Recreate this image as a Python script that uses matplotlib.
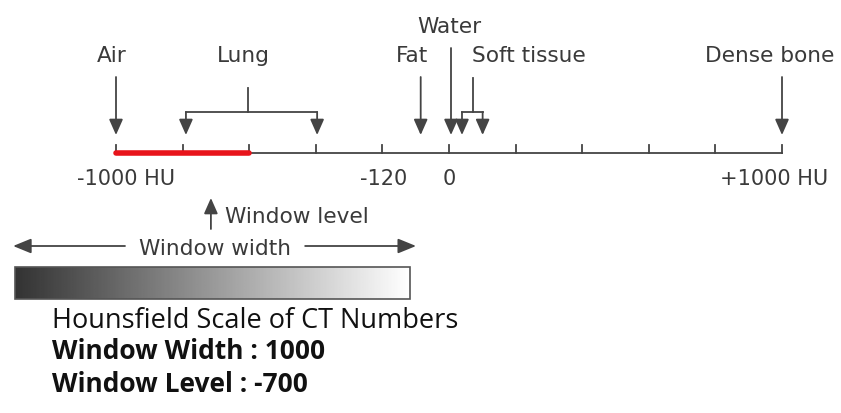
import matplotlib.pyplot as plt
import numpy as np

# schematic Hounsfield axis (HU)
tick_hu = np.arange(-1000, 1001, 200)
tick_labels = ['-1000 HU', '-120', '0', '+1000 HU']
tick_label_hu = [-970, -195, 0, 975]

window_range = [-1000, -600]   # red bar
window_level = -715

# single arrows: name, HU position, label position
single_names = ['Air', 'Fat', 'Water', 'Dense bone']
single_hu = [-1000, -85, 6, 1000]
single_top = [77, 77, 48, 77]
label_names = ['Air', 'Lung', 'Fat', 'Water', 'Soft tissue', 'Dense bone']
label_hu = [-1012, -618, -111, 0, 240, 963]
label_y = [62, 62, 62, 33, 62, 62]

# bracket arrows
lung_hu = [-790, -396]
lung_stem = -603
soft_hu = [39, 101]
soft_stem = 72

grad_hu = [-1303, -117]
width_arrow_hu = [-1309, -99]
width_gap_hu = [-973, -432]

dark = '#444444'
txt = '#3a3a3a'

fig = plt.figure(figsize=(8.41, 4.13), dpi=100)
ax = fig.add_axes([0, 0, 1, 1])
ax.axis('off')

font = 'DejaVu Sans'
fs = 15.6

# axis line and ticks
ax.plot([tick_hu[0], tick_hu[-1]], [153, 153], color=dark, lw=1.3)
for t in tick_hu:
    ax.plot([t, t], [145, 153], color=dark, lw=1.3)
ax.plot(window_range, [153, 153], color='#e8141b', lw=4, solid_capstyle='round')
for lab, x in zip(tick_labels, tick_label_hu):
    ax.text(x, 185, lab, ha='center', va='baseline', fontsize=15, family=font, color=txt)

def arrow(x0, y0, x1, y1, hl=0.95, hw=0.42):
    ax.annotate('', xy=(x1, y1), xytext=(x0, y0),
                arrowprops=dict(arrowstyle=f'-|>,head_length={hl},head_width={hw}',
                                mutation_scale=10, color=dark, lw=1.3,
                                shrinkA=0, shrinkB=0))

for x, top in zip(single_hu, single_top):
    arrow(x, top, x, 135)

for xs, stem, top in [(lung_hu, lung_stem, 88), (soft_hu, soft_stem, 78)]:
    ax.plot([stem, stem], [top, 112], color=dark, lw=1.3)
    ax.plot(xs, [112, 112], color=dark, lw=1.3)
    for x in xs:
        arrow(x, 112, x, 135)

for lab, x, y in zip(label_names, label_hu, label_y):
    ax.text(x, y, lab, ha='center', va='baseline', fontsize=fs, family=font, color=txt)

# window level
arrow(window_level, 229, window_level, 198)
ax.text(window_level + 42, 223, 'Window level', ha='left', va='baseline',
        fontsize=fs, family=font, color=txt)

# window width
arrow(width_gap_hu[0], 246, width_arrow_hu[0], 246, hl=1.1, hw=0.45)
arrow(width_gap_hu[1], 246, width_arrow_hu[1], 246, hl=1.1, hw=0.45)
ax.text(np.mean(width_gap_hu), 255, 'Window width', ha='center', va='baseline',
        fontsize=fs, family=font, color=txt)

# gradient bar
grad = np.linspace(0, 1, 256).reshape(1, -1)
ax.imshow(grad, cmap='gray', vmin=-0.25, vmax=1.0, aspect='auto',
          extent=[grad_hu[0], grad_hu[1], 299, 267], interpolation='bilinear')
ax.add_patch(plt.Rectangle((grad_hu[0], 267), grad_hu[1] - grad_hu[0], 32,
                           fill=False, edgecolor='#555555', lw=1.2))
ax.set_xlim(-449 / 0.333, (841 - 449) / 0.333)
ax.set_ylim(413, 0)

# caption
x_cap = (52 - 449) / 0.333
cap_font = 'Open Sans'
ax.text(x_cap, 328, 'Hounsfield Scale of CT Numbers', fontsize=19.5, family=cap_font,
        color='#111111', va='baseline')
ax.text(x_cap, 359, 'Window Width : 1000', fontsize=19, family=cap_font,
        weight='bold', color='#111111', va='baseline')
ax.text(x_cap, 392, 'Window Level : -700', fontsize=19, family=cap_font,
        weight='bold', color='#111111', va='baseline')

fig.savefig('out.png', dpi=100)
